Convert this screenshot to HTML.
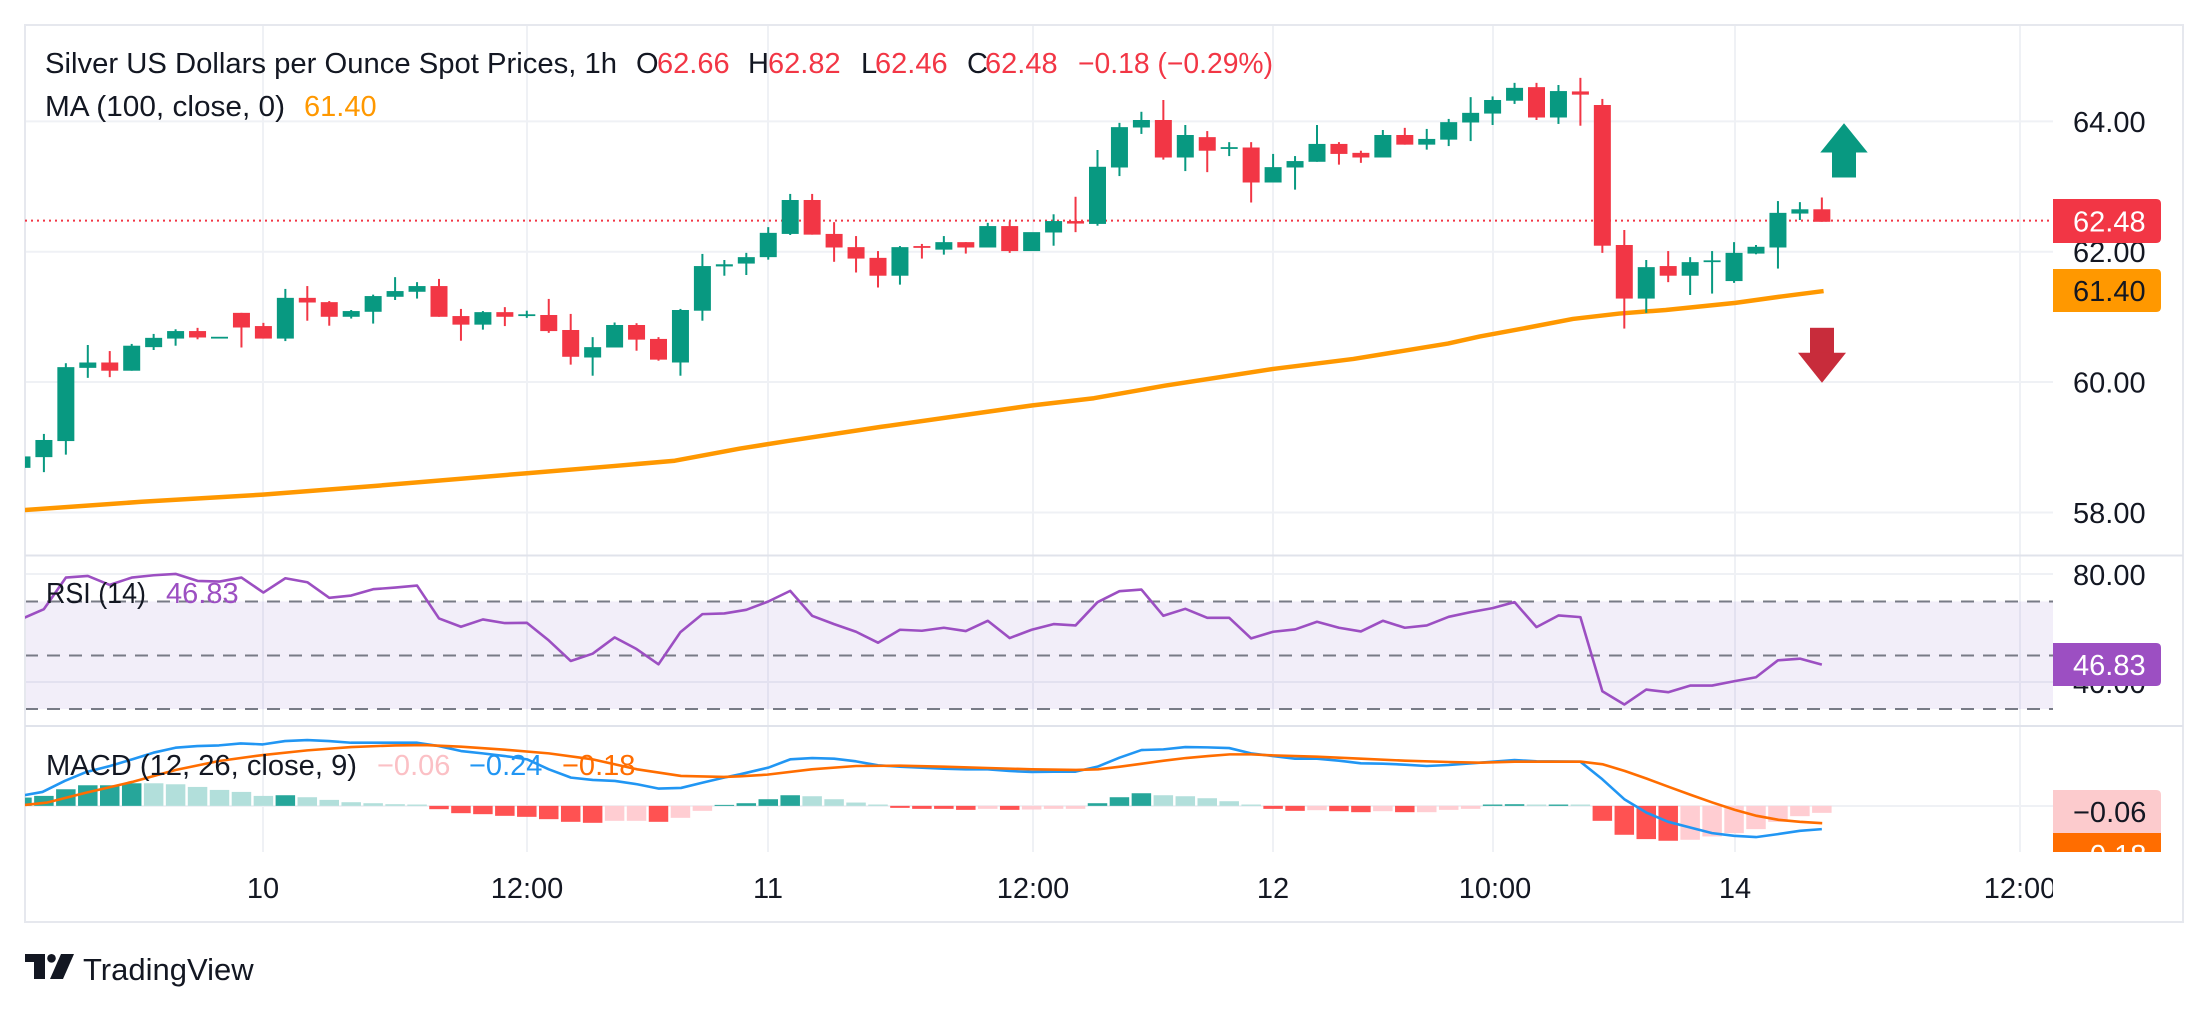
<!DOCTYPE html>
<html><head><meta charset="utf-8"><style>
html,body{margin:0;padding:0;background:#fff;}
svg{display:block;font-family:"Liberation Sans",Arial,sans-serif;}
</style></head><body>
<svg width="2208" height="1012" viewBox="0 0 2208 1012" xmlns="http://www.w3.org/2000/svg">
<defs>
<clipPath id="cm"><rect x="25" y="26" width="2028" height="529"/></clipPath>
<clipPath id="cr"><rect x="25" y="557" width="2028" height="168"/></clipPath>
<clipPath id="cd"><rect x="25" y="727" width="2028" height="125"/></clipPath>
<clipPath id="cdl"><rect x="2040" y="727" width="140" height="125"/></clipPath>
<clipPath id="ct"><rect x="25" y="853" width="2028" height="68"/></clipPath>
</defs>
<rect width="2208" height="1012" fill="#fff"/>
<!-- grid -->
<g stroke="#eff1f5" stroke-width="2">
<line x1="25" y1="121.4" x2="2053" y2="121.4"/><line x1="25" y1="251.8" x2="2053" y2="251.8"/><line x1="25" y1="382" x2="2053" y2="382"/><line x1="25" y1="512.5" x2="2053" y2="512.5"/>
<line x1="25" y1="574" x2="2053" y2="574"/><line x1="25" y1="682" x2="2053" y2="682"/><line x1="25" y1="806" x2="2053" y2="806"/>
<line x1="263" y1="26" x2="263" y2="852"/><line x1="527" y1="26" x2="527" y2="852"/><line x1="768" y1="26" x2="768" y2="852"/><line x1="1033" y1="26" x2="1033" y2="852"/><line x1="1273" y1="26" x2="1273" y2="852"/><line x1="1493" y1="26" x2="1493" y2="852"/><line x1="1735" y1="26" x2="1735" y2="852"/><line x1="2020" y1="26" x2="2020" y2="852"/>
</g>
<!-- RSI band -->
<rect x="25" y="601.5" width="2028" height="107.5" fill="#7e57c2" fill-opacity="0.1"/>
<g stroke="#787b86" stroke-width="2" stroke-dasharray="13 9">
<line x1="25" y1="601.5" x2="2053" y2="601.5"/><line x1="25" y1="655.5" x2="2053" y2="655.5"/><line x1="25" y1="709" x2="2053" y2="709"/>
</g>
<!-- frame -->
<rect x="25" y="25" width="2158" height="897" fill="none" stroke="#e6e8ee" stroke-width="2"/>
<line x1="25" y1="555.5" x2="2183" y2="555.5" stroke="#e0e3eb" stroke-width="2"/>
<line x1="25" y1="726" x2="2183" y2="726" stroke="#e0e3eb" stroke-width="2"/>

<!-- price line -->
<line x1="25" y1="220.6" x2="2053" y2="220.6" stroke="#f23645" stroke-width="2" stroke-dasharray="2 4"/>

<!-- main pane -->
<g clip-path="url(#cm)">
<g transform="scale(1,0.35714)">
<polyline fill="none" stroke="#ff9800" stroke-width="4.5" vector-effect="non-scaling-stroke" stroke-linejoin="round" points="20,1429 141.6,1405 262.8,1385 377.5,1360 527,1325 613.5,1305 674.8,1290 740,1256 787.2,1235 881.6,1195 1032.6,1135 1093.9,1115 1164.7,1080 1273.2,1033 1353.5,1005 1447.9,962 1480,942 1526.4,918 1572.9,893 1619.3,878 1665.7,868 1735.4,848 1781.8,830 1823.6,815"/>
<g fill="#089981">
<rect x="20.95" y="1270" width="2" height="45"/><rect x="13.45" y="1278" width="17" height="32"/>
<rect x="42.9" y="1215" width="2" height="107"/><rect x="35.4" y="1232" width="17" height="48"/>
<rect x="64.85" y="1017" width="2" height="256"/><rect x="57.35" y="1028" width="17" height="207"/>
<rect x="86.8" y="966" width="2" height="92"/><rect x="79.3" y="1015" width="17" height="15"/>
<rect x="130.7" y="963" width="2" height="75"/><rect x="123.2" y="968" width="17" height="70"/>
<rect x="152.65" y="935" width="2" height="45"/><rect x="145.15" y="946" width="17" height="26"/>
<rect x="174.6" y="922" width="2" height="46"/><rect x="167.1" y="927" width="17" height="21"/>
<rect x="211" y="943" width="17" height="5"/>
<rect x="284.35" y="809" width="2" height="146"/><rect x="276.85" y="834" width="17" height="114"/>
<rect x="350.2" y="868" width="2" height="24"/><rect x="342.7" y="871" width="17" height="16"/>
<rect x="372.15" y="825" width="2" height="81"/><rect x="364.65" y="829" width="17" height="44"/>
<rect x="394.1" y="776" width="2" height="64"/><rect x="386.6" y="815" width="17" height="16"/>
<rect x="416.05" y="790" width="2" height="46"/><rect x="408.55" y="801" width="17" height="16"/>
<rect x="481.9" y="871" width="2" height="52"/><rect x="474.4" y="874" width="17" height="35"/>
<rect x="525.8" y="870" width="2" height="20"/><rect x="518.3" y="880" width="17" height="5"/>
<rect x="591.65" y="944" width="2" height="108"/><rect x="584.15" y="972" width="17" height="29"/>
<rect x="613.6" y="903" width="2" height="70"/><rect x="606.1" y="910" width="17" height="63"/>
<rect x="679.45" y="865" width="2" height="187"/><rect x="671.95" y="868" width="17" height="147"/>
<rect x="701.4" y="711" width="2" height="187"/><rect x="693.9" y="745" width="17" height="125"/>
<rect x="723.35" y="728" width="2" height="44"/><rect x="715.85" y="740" width="17" height="6"/>
<rect x="745.3" y="708" width="2" height="62"/><rect x="737.8" y="720" width="17" height="18"/>
<rect x="767.25" y="636" width="2" height="91"/><rect x="759.75" y="652" width="17" height="68"/>
<rect x="789.2" y="543" width="2" height="115"/><rect x="781.7" y="560" width="17" height="95"/>
<rect x="898.95" y="689" width="2" height="108"/><rect x="891.45" y="692" width="17" height="80"/>
<rect x="942.85" y="661" width="2" height="52"/><rect x="935.35" y="678" width="17" height="21"/>
<rect x="986.75" y="624" width="2" height="69"/><rect x="979.25" y="633" width="17" height="60"/>
<rect x="1023.15" y="650" width="17" height="53"/>
<rect x="1052.6" y="600" width="2" height="88"/><rect x="1045.1" y="619" width="17" height="32"/>
<rect x="1096.5" y="420" width="2" height="212"/><rect x="1089" y="467" width="17" height="160"/>
<rect x="1118.45" y="344" width="2" height="149"/><rect x="1110.95" y="356" width="17" height="113"/>
<rect x="1140.4" y="313" width="2" height="62"/><rect x="1132.9" y="336" width="17" height="21"/>
<rect x="1184.3" y="350" width="2" height="129"/><rect x="1176.8" y="378" width="17" height="63"/>
<rect x="1228.2" y="398" width="2" height="39"/><rect x="1220.7" y="412" width="17" height="5"/>
<rect x="1272.1" y="431" width="2" height="80"/><rect x="1264.6" y="468" width="17" height="43"/>
<rect x="1294.05" y="437" width="2" height="94"/><rect x="1286.55" y="451" width="17" height="18"/>
<rect x="1316" y="350" width="2" height="103"/><rect x="1308.5" y="403" width="17" height="50"/>
<rect x="1381.85" y="364" width="2" height="77"/><rect x="1374.35" y="378" width="17" height="63"/>
<rect x="1425.75" y="361" width="2" height="58"/><rect x="1418.25" y="389" width="17" height="16"/>
<rect x="1447.7" y="333" width="2" height="76"/><rect x="1440.2" y="342" width="17" height="49"/>
<rect x="1469.65" y="272" width="2" height="123"/><rect x="1462.15" y="316" width="17" height="27"/>
<rect x="1491.6" y="270" width="2" height="80"/><rect x="1484.1" y="280" width="17" height="38"/>
<rect x="1513.55" y="232" width="2" height="59"/><rect x="1506.05" y="246" width="17" height="36"/>
<rect x="1557.45" y="238" width="2" height="109"/><rect x="1549.95" y="255" width="17" height="74"/>
<rect x="1645.25" y="728" width="2" height="148"/><rect x="1637.75" y="748" width="17" height="88"/>
<rect x="1689.15" y="720" width="2" height="106"/><rect x="1681.65" y="734" width="17" height="38"/>
<rect x="1711.1" y="703" width="2" height="119"/><rect x="1703.6" y="729" width="17" height="5"/>
<rect x="1733.05" y="678" width="2" height="114"/><rect x="1725.55" y="708" width="17" height="79"/>
<rect x="1755" y="686" width="2" height="26"/><rect x="1747.5" y="691" width="17" height="19"/>
<rect x="1776.95" y="563" width="2" height="189"/><rect x="1769.45" y="596" width="17" height="97"/>
<rect x="1798.9" y="566" width="2" height="50"/><rect x="1791.4" y="586" width="17" height="12"/>
</g>
<g fill="#f23645">
<rect x="108.75" y="983" width="2" height="73"/><rect x="101.25" y="1015" width="17" height="23"/>
<rect x="196.55" y="918" width="2" height="32"/><rect x="189.05" y="927" width="17" height="18"/>
<rect x="240.45" y="876" width="2" height="97"/><rect x="232.95" y="876" width="17" height="41"/>
<rect x="262.4" y="904" width="2" height="44"/><rect x="254.9" y="913" width="17" height="35"/>
<rect x="306.3" y="801" width="2" height="97"/><rect x="298.8" y="834" width="17" height="13"/>
<rect x="328.25" y="843" width="2" height="69"/><rect x="320.75" y="846" width="17" height="41"/>
<rect x="438" y="781" width="2" height="106"/><rect x="430.5" y="801" width="17" height="86"/>
<rect x="459.95" y="865" width="2" height="89"/><rect x="452.45" y="885" width="17" height="24"/>
<rect x="503.85" y="860" width="2" height="53"/><rect x="496.35" y="874" width="17" height="13"/>
<rect x="547.75" y="837" width="2" height="95"/><rect x="540.25" y="882" width="17" height="45"/>
<rect x="569.7" y="879" width="2" height="142"/><rect x="562.2" y="924" width="17" height="75"/>
<rect x="635.55" y="905" width="2" height="77"/><rect x="628.05" y="910" width="17" height="41"/>
<rect x="657.5" y="944" width="2" height="66"/><rect x="650" y="949" width="17" height="58"/>
<rect x="811.15" y="543" width="2" height="114"/><rect x="803.65" y="560" width="17" height="97"/>
<rect x="833.1" y="622" width="2" height="111"/><rect x="825.6" y="655" width="17" height="38"/>
<rect x="855.05" y="661" width="2" height="102"/><rect x="847.55" y="692" width="17" height="32"/>
<rect x="877" y="703" width="2" height="102"/><rect x="869.5" y="722" width="17" height="50"/>
<rect x="920.9" y="683" width="2" height="41"/><rect x="913.4" y="689" width="17" height="5"/>
<rect x="964.8" y="678" width="2" height="32"/><rect x="957.3" y="678" width="17" height="15"/>
<rect x="1008.7" y="620" width="2" height="88"/><rect x="1001.2" y="633" width="17" height="70"/>
<rect x="1074.55" y="551" width="2" height="99"/><rect x="1067.05" y="619" width="17" height="7"/>
<rect x="1162.35" y="280" width="2" height="167"/><rect x="1154.85" y="336" width="17" height="105"/>
<rect x="1206.25" y="367" width="2" height="115"/><rect x="1198.75" y="384" width="17" height="38"/>
<rect x="1250.15" y="398" width="2" height="169"/><rect x="1242.65" y="413" width="17" height="98"/>
<rect x="1337.95" y="398" width="2" height="63"/><rect x="1330.45" y="403" width="17" height="28"/>
<rect x="1359.9" y="422" width="2" height="34"/><rect x="1352.4" y="428" width="17" height="13"/>
<rect x="1403.8" y="358" width="2" height="47"/><rect x="1396.3" y="378" width="17" height="27"/>
<rect x="1535.5" y="232" width="2" height="104"/><rect x="1528" y="244" width="17" height="85"/>
<rect x="1579.4" y="218" width="2" height="134"/><rect x="1571.9" y="256" width="17" height="9"/>
<rect x="1601.35" y="277" width="2" height="431"/><rect x="1593.85" y="294" width="17" height="394"/>
<rect x="1623.3" y="644" width="2" height="276"/><rect x="1615.8" y="686" width="17" height="150"/>
<rect x="1667.2" y="703" width="2" height="87"/><rect x="1659.7" y="745" width="17" height="27"/>
<rect x="1820.85" y="553" width="2" height="68"/><rect x="1813.35" y="586" width="17" height="35"/>
</g>
</g>
<!-- arrows -->
<polygon points="1820.3,152.5 1844,123.2 1867.7,152.5" fill="#089981"/>
<rect x="1832" y="152" width="24" height="25.5" fill="#089981"/>
<rect x="1810" y="327.8" width="24" height="25.5" fill="#c82c3b"/>
<polygon points="1798,352.8 1846,352.8 1822,382.8" fill="#c82c3b"/>
</g>

<!-- RSI -->
<g clip-path="url(#cr)">
<g transform="translate(0,550) scale(1,0.3323)">
<polyline fill="none" stroke="#9c4fc2" stroke-width="2.6" vector-effect="non-scaling-stroke" stroke-linejoin="round" points="21.95,207 43.9,178 65.85,83 87.8,78 109.75,105 131.7,83 153.65,76 175.6,72 197.55,93 219.5,95 241.45,83 263.4,128 285.35,85 307.3,97 329.25,144 351.2,137 373.15,118 395.1,113 417.05,107 439,206 460.95,231 482.9,209 504.85,220 526.8,219 548.75,272 570.7,334 592.65,312 614.6,263 636.55,298 658.5,344 680.45,247 702.4,193 724.35,191 746.3,180 768.25,155 790.2,123 812.15,198 834.1,223 856.05,246 878,279 899.95,240 921.9,243 943.85,234 965.8,244 987.75,213 1009.7,265 1031.65,240 1053.6,223 1075.55,227 1097.5,157 1119.45,124 1141.4,119 1163.35,198 1185.3,177 1207.25,204 1229.2,204 1251.15,266 1273.1,246 1295.05,239 1317,216 1338.95,234 1360.9,245 1382.85,213 1404.8,234 1426.75,227 1448.7,201 1470.65,187 1492.6,175 1514.55,157 1536.5,232 1558.45,197 1580.4,202 1602.35,425 1624.3,465 1646.25,420 1668.2,428 1690.15,408 1712.1,408 1734.05,395 1756,383 1777.95,332 1799.9,327 1821.85,345"/>
</g>
</g>

<!-- MACD -->
<g clip-path="url(#cd)">
<g transform="translate(0,550) scale(1,0.3323)">
<g fill="#26a69a">
<rect x="12.2" y="745" width="19.5" height="25"/><rect x="34.15" y="740" width="19.5" height="30"/><rect x="56.1" y="720" width="19.5" height="50"/><rect x="78.05" y="708" width="19.5" height="62"/><rect x="100" y="708" width="19.5" height="62"/><rect x="121.95" y="702" width="19.5" height="68"/><rect x="275.6" y="738" width="19.5" height="32"/><rect x="714.6" y="767" width="19.5" height="3"/><rect x="736.55" y="762" width="19.5" height="8"/><rect x="758.5" y="750" width="19.5" height="20"/><rect x="780.45" y="738" width="19.5" height="32"/><rect x="1087.75" y="762" width="19.5" height="8"/><rect x="1109.7" y="744" width="19.5" height="26"/><rect x="1131.65" y="732" width="19.5" height="38"/><rect x="1482.85" y="766" width="19.5" height="4"/><rect x="1504.8" y="765" width="19.5" height="5"/><rect x="1548.7" y="766" width="19.5" height="4"/>
</g>
<g fill="#b2dfdb">
<rect x="143.9" y="702" width="19.5" height="68"/><rect x="165.85" y="705" width="19.5" height="65"/><rect x="187.8" y="713" width="19.5" height="57"/><rect x="209.75" y="722" width="19.5" height="48"/><rect x="231.7" y="728" width="19.5" height="42"/><rect x="253.65" y="740" width="19.5" height="30"/><rect x="297.55" y="744" width="19.5" height="26"/><rect x="319.5" y="752" width="19.5" height="18"/><rect x="341.45" y="759" width="19.5" height="11"/><rect x="363.4" y="762" width="19.5" height="8"/><rect x="385.35" y="765" width="19.5" height="5"/><rect x="407.3" y="766" width="19.5" height="4"/><rect x="802.4" y="741" width="19.5" height="29"/><rect x="824.35" y="750" width="19.5" height="20"/><rect x="846.3" y="760" width="19.5" height="10"/><rect x="868.25" y="766" width="19.5" height="4"/><rect x="1153.6" y="738" width="19.5" height="32"/><rect x="1175.55" y="741" width="19.5" height="29"/><rect x="1197.5" y="747" width="19.5" height="23"/><rect x="1219.45" y="756" width="19.5" height="14"/><rect x="1241.4" y="766" width="19.5" height="4"/><rect x="1526.75" y="766" width="19.5" height="4"/><rect x="1570.65" y="766" width="19.5" height="4"/>
</g>
<g fill="#ff5252">
<rect x="429.25" y="770" width="19.5" height="10"/><rect x="451.2" y="770" width="19.5" height="22"/><rect x="473.15" y="770" width="19.5" height="25"/><rect x="495.1" y="770" width="19.5" height="30"/><rect x="517.05" y="770" width="19.5" height="33"/><rect x="539" y="770" width="19.5" height="40"/><rect x="560.95" y="770" width="19.5" height="48"/><rect x="582.9" y="770" width="19.5" height="51"/><rect x="648.75" y="770" width="19.5" height="48"/><rect x="890.2" y="770" width="19.5" height="6"/><rect x="912.15" y="770" width="19.5" height="9"/><rect x="934.1" y="770" width="19.5" height="9"/><rect x="956.05" y="770" width="19.5" height="12"/><rect x="999.95" y="770" width="19.5" height="12"/><rect x="1263.35" y="770" width="19.5" height="9"/><rect x="1285.3" y="770" width="19.5" height="15"/><rect x="1329.2" y="770" width="19.5" height="16"/><rect x="1351.15" y="770" width="19.5" height="19"/><rect x="1395.05" y="770" width="19.5" height="19"/><rect x="1592.6" y="770" width="19.5" height="45"/><rect x="1614.55" y="770" width="19.5" height="87"/><rect x="1636.5" y="770" width="19.5" height="100"/><rect x="1658.45" y="770" width="19.5" height="105"/>
</g>
<g fill="#ffcdd2">
<rect x="604.85" y="770" width="19.5" height="45"/><rect x="626.8" y="770" width="19.5" height="45"/><rect x="670.7" y="770" width="19.5" height="36"/><rect x="692.65" y="770" width="19.5" height="15"/><rect x="978" y="770" width="19.5" height="9"/><rect x="1021.9" y="770" width="19.5" height="11"/><rect x="1043.85" y="770" width="19.5" height="9"/><rect x="1065.8" y="770" width="19.5" height="9"/><rect x="1307.25" y="770" width="19.5" height="13"/><rect x="1373.1" y="770" width="19.5" height="16"/><rect x="1417" y="770" width="19.5" height="19"/><rect x="1438.95" y="770" width="19.5" height="12"/><rect x="1460.9" y="770" width="19.5" height="9"/><rect x="1680.4" y="770" width="19.5" height="102"/><rect x="1702.35" y="770" width="19.5" height="92"/><rect x="1724.3" y="770" width="19.5" height="82"/><rect x="1746.25" y="770" width="19.5" height="70"/><rect x="1768.2" y="770" width="19.5" height="48"/><rect x="1790.15" y="770" width="19.5" height="31"/><rect x="1812.1" y="770" width="19.5" height="21"/>
</g>
<polyline fill="none" stroke="#2196f3" stroke-width="2.6" vector-effect="non-scaling-stroke" stroke-linejoin="round" points="20,740 42.5,728 64.7,695 86.4,668 110,650 132.1,630 153.4,610 175.5,595 197.3,590 219,588 240.7,582 262.8,585 285,575 307.2,572 328.9,575 351.1,580 372.8,580 395,580 417.2,580 438.9,590 461,605 482.7,612 504.9,620 527.1,630 548.8,660 571,685 592.7,692 614.9,695 637.1,705 658.8,718 681,716 702.7,700 723.9,685 740,675 768.25,655 790.2,630 812.15,626 834.1,628 856.05,636 878,648 899.95,652 921.9,655 943.85,658 965.8,660 987.75,660 1009.7,665 1031.65,668 1053.6,667 1075.55,667 1097.5,652 1119.45,625 1141.4,602 1163.35,600 1185.3,593 1207.25,594 1229.2,596 1251.15,612 1273.1,620 1295.05,628 1317,628 1338.95,634 1360.9,642 1382.85,643 1404.8,646 1426.75,650 1448.7,647 1480,640 1514.55,632 1536.5,636 1580.4,637 1602.35,690 1624.3,750 1646.25,790 1668.2,818 1690.15,835 1712.1,852 1734.05,860 1756,864 1777.95,855 1799.9,845 1821.85,840"/>
<polyline fill="none" stroke="#ff6d00" stroke-width="2.6" vector-effect="non-scaling-stroke" stroke-linejoin="round" points="20,769 47.2,760 86.4,730 132.1,698 175.5,662 219,635 262.8,617 307.2,603 351.1,593 395,588 424.7,587 461,592 504.9,601 548.8,612 592.7,630 637.1,660 681,680 723.9,683 740,681 767.4,676 811.7,660 856.1,650 900,649 943.9,652 987.8,656 1032.1,660 1076,662 1098.2,660 1119.9,652 1142.1,643 1163.8,634 1186,626 1208.1,620 1229.8,615 1251.1,615 1273.2,618 1316.7,622 1361,628 1404.9,634 1448.8,638 1480,640 1514.8,637 1581.2,637 1603,645 1624.9,665 1646.7,688 1669,713 1690.8,737 1712.6,760 1734.9,782 1756.7,800 1778.5,812 1799.9,818 1822.2,822"/>
</g>
</g>

<!-- legends -->
<g font-size="29" fill="#131722">
<text x="45" y="73" textLength="572" lengthAdjust="spacingAndGlyphs">Silver US Dollars per Ounce Spot Prices, 1h</text>
<text x="636" y="73">O</text><text x="657" y="73" fill="#f23645">62.66</text>
<text x="748" y="73">H</text><text x="768" y="73" fill="#f23645">62.82</text>
<text x="861" y="73">L</text><text x="875" y="73" fill="#f23645">62.46</text>
<text x="967" y="73">C</text><text x="985" y="73" fill="#f23645">62.48</text>
<text x="1078" y="73" fill="#f23645" textLength="195" lengthAdjust="spacingAndGlyphs">−0.18 (−0.29%)</text>
<text x="45" y="116" textLength="240" lengthAdjust="spacingAndGlyphs">MA (100, close, 0)</text>
<text x="304" y="116" fill="#ff9800">61.40</text>
<text x="46" y="603" textLength="100" lengthAdjust="spacingAndGlyphs">RSI (14)</text>
<text x="166" y="603" fill="#9c4fc2">46.83</text>
<text x="46" y="775" textLength="311" lengthAdjust="spacingAndGlyphs">MACD (12, 26, close, 9)</text>
<text x="377" y="775" fill="#fbc0c5">−0.06</text>
<text x="469" y="775" fill="#2196f3">−0.24</text>
<text x="562" y="775" fill="#ff6d00">−0.18</text>
</g>

<!-- price axis -->
<g font-size="29" fill="#131722">
<text x="2073" y="132">64.00</text>
<text x="2073" y="262">62.00</text>
<text x="2073" y="392.5">60.00</text>
<text x="2073" y="523">58.00</text>
<text x="2073" y="585">80.00</text>
<text x="2073" y="693">40.00</text>
</g>
<path d="M2053,199 H2156 Q2161,199 2161,204 V238 Q2161,243 2156,243 H2053 Z" fill="#f23645"/>
<text x="2073" y="231.5" font-size="29" fill="#fff">62.48</text>
<path d="M2053,269 H2156 Q2161,269 2161,274 V307 Q2161,312 2156,312 H2053 Z" fill="#ff9800"/>
<text x="2073" y="301" font-size="29" fill="#131722">61.40</text>
<path d="M2053,643 H2156 Q2161,643 2161,648 V681 Q2161,686 2156,686 H2053 Z" fill="#9c4fc2"/>
<text x="2073" y="675" font-size="29" fill="#fff">46.83</text>
<g clip-path="url(#cdl)">
<path d="M2053,790 H2156 Q2161,790 2161,795 V833 H2053 Z" fill="#fccbcd"/>
<text x="2073" y="822" font-size="29" fill="#131722">−0.06</text>
<path d="M2053,833 H2161 V871 Q2161,876 2156,876 H2053 Z" fill="#ff6d00"/>
<text x="2073" y="865" font-size="29" fill="#fff">−0.18</text>
</g>

<!-- time axis -->
<g font-size="29" fill="#131722" text-anchor="middle" clip-path="url(#ct)">
<text x="263" y="898">10</text>
<text x="527" y="898">12:00</text>
<text x="768" y="898">11</text>
<text x="1033" y="898">12:00</text>
<text x="1273" y="898">12</text>
<text x="1495" y="898">10:00</text>
<text x="1735" y="898">14</text>
<text x="2020" y="898">12:00</text>
</g>

<!-- logo -->
<g fill="#131722">
<rect x="25" y="954" width="20" height="8"/>
<rect x="34" y="954" width="11" height="25"/>
<circle cx="51.5" cy="958.3" r="4.3"/>
<polygon points="61,954 74,954 63,979 50,979"/>
</g>
<text x="83" y="980" font-size="31" fill="#131722">TradingView</text>
</svg>
</body></html>
